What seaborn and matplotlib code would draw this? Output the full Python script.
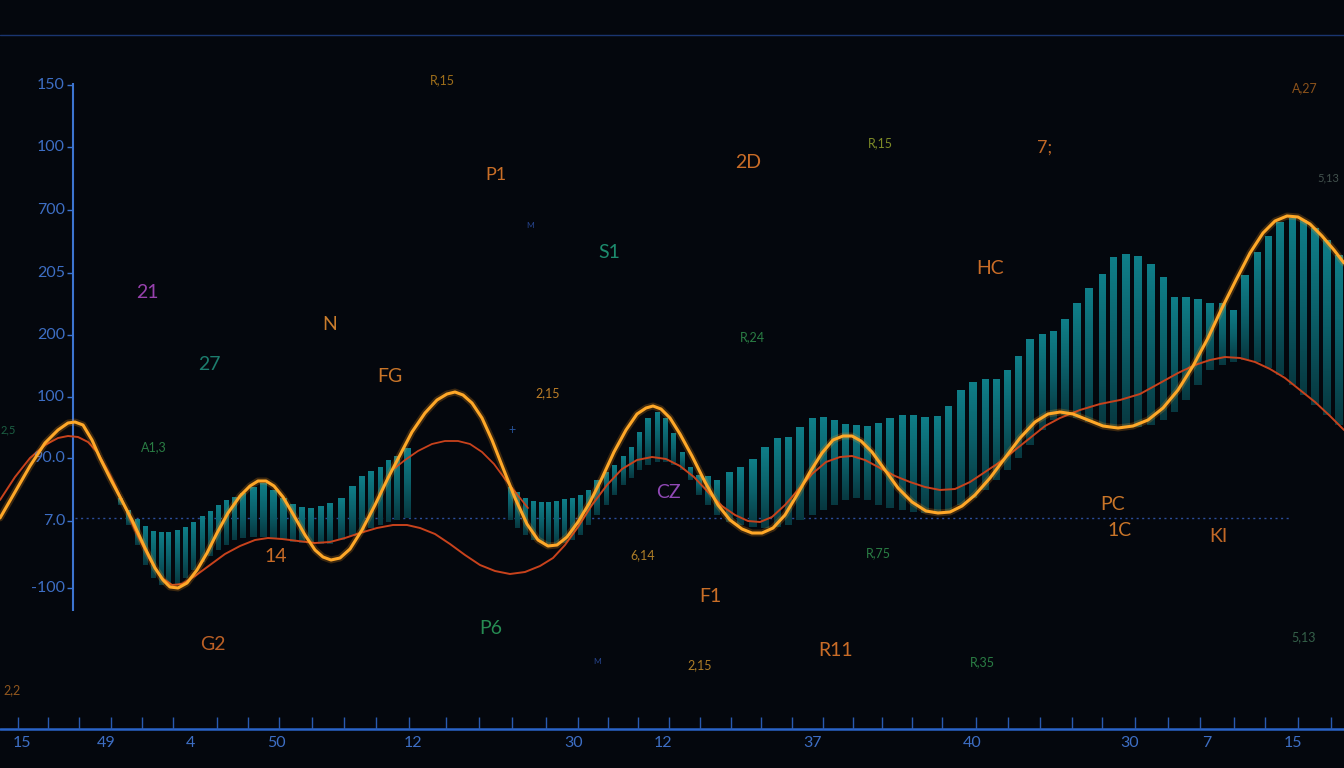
import numpy as np
import matplotlib
matplotlib.use("Agg")
import matplotlib.pyplot as plt
import seaborn as sns
from matplotlib.colors import LinearSegmentedColormap

# screen-style chart, positions given in picture units (y grows downward)
orange_x = [0, 15, 30, 45, 58, 68, 75, 83, 92, 100, 110, 120, 133, 145, 155, 163, 170, 178, 187, 197,
            207, 217, 228, 240, 250, 258, 266, 274, 283, 293, 305, 315, 323, 331, 340, 350, 362, 375, 388, 400,
            412, 425, 437, 447, 455, 463, 472, 482, 492, 503, 515, 527, 538, 548, 557, 567, 578, 590, 602, 614,
            626, 637, 646, 653, 661, 670, 680, 692, 705, 718, 730, 742, 752, 762, 773, 785, 797, 810, 822, 833,
            843, 852, 861, 872, 885, 898, 912, 926, 938, 950, 962, 975, 990, 1005, 1020, 1035, 1048, 1060, 1073, 1088,
            1103, 1118, 1133, 1148, 1163, 1178, 1193, 1208, 1222, 1236, 1250, 1263, 1275, 1287, 1298, 1310, 1322, 1334, 1344]
orange_y = [518, 492, 466, 443, 430, 423, 422, 425, 440, 458, 478, 497, 522, 548, 568, 580, 587, 588, 583, 570,
            553, 533, 513, 496, 486, 481, 481, 486, 497, 514, 535, 550, 557, 560, 558, 549, 530, 505, 478, 455,
            432, 413, 400, 394, 392, 395, 403, 418, 440, 468, 498, 524, 540, 546, 545, 537, 522, 502, 478, 452,
            430, 414, 408, 406, 409, 418, 434, 456, 482, 505, 520, 529, 533, 533, 528, 515, 495, 472, 453, 440,
            436, 436, 441, 452, 470, 488, 502, 511, 513, 512, 506, 495, 478, 458, 438, 422, 414, 412, 414, 420,
            426, 428, 426, 420, 408, 390, 366, 338, 308, 280, 253, 233, 221, 216, 217, 224, 236, 250, 263]

red_x = [0, 15, 30, 45, 58, 68, 78, 88, 98, 110, 122, 135, 150, 162, 172, 182, 195, 210, 225, 240,
         255, 268, 282, 298, 315, 330, 345, 360, 377, 393, 407, 420, 435, 450, 465, 480, 495, 510, 525, 540,
         553, 565, 578, 592, 607, 622, 637, 652, 666, 680, 694, 708, 722, 735, 748, 760, 772, 785, 798, 812,
         826, 840, 852, 865, 880, 895, 910, 925, 940, 955, 970, 985, 1000, 1015, 1030, 1045, 1060, 1080, 1100, 1120,
         1140, 1160, 1178, 1195, 1210, 1225, 1240, 1255, 1270, 1285, 1300, 1315, 1330, 1344]
red_y = [500, 477, 458, 445, 438, 436, 437, 442, 453, 475, 500, 530, 560, 578, 585, 584, 576, 565, 554, 546,
         540, 538, 539, 541, 543, 542, 538, 533, 528, 525, 525, 528, 534, 544, 555, 565, 571, 574, 572, 566,
         558, 545, 527, 505, 485, 469, 460, 457, 459, 466, 477, 492, 506, 515, 521, 522, 517, 505, 490, 474,
         462, 457, 456, 460, 468, 476, 482, 487, 490, 489, 482, 472, 462, 450, 438, 426, 418, 410, 404, 400,
         394, 383, 373, 365, 360, 357, 358, 362, 369, 378, 390, 402, 416, 430]

red2_x = [395, 405, 418, 432, 445, 458, 470, 482, 494, 505, 516, 528]
red2_y = [468, 460, 451, 444, 441, 441, 444, 452, 464, 479, 493, 508]

bar_x = [120, 128, 137, 145, 153, 161, 168, 177, 185, 193, 202, 210, 218, 226, 234, 243, 253, 263, 273, 283,
         293, 302, 311, 321, 330, 341, 352, 362, 371, 380, 388, 397, 407,
         510, 517, 525, 533, 541, 548, 556, 564, 572, 580, 588, 597, 606, 614, 623, 631, 639, 648, 657, 665,
         673, 682, 690, 699, 708, 717, 729, 740, 753, 765, 777, 788, 800, 812, 823, 834, 845, 856, 867, 878,
         890, 902, 913, 925, 937, 948,
         961, 973, 985, 996, 1007, 1018, 1030, 1042, 1053, 1065, 1077, 1089, 1102, 1113, 1126, 1138, 1151,
         1163, 1174, 1186, 1198, 1210, 1222, 1233, 1245, 1257, 1268, 1280, 1292, 1303, 1315, 1327, 1339]
bar_top = [498, 510, 519, 526, 531, 532, 532, 530, 527, 522, 516, 511, 505, 500, 497, 493, 487, 483, 490, 498,
           504, 507, 508, 506, 503, 498, 486, 476, 471, 467, 460, 456, 448,
           487, 492, 498, 501, 502, 502, 501, 499, 498, 495, 490, 480, 472, 465, 456, 447, 432, 418, 412, 418,
           433, 452, 467, 475, 476, 480, 472, 467, 459, 447, 438, 437, 427, 418, 417, 420, 424, 425, 426, 423,
           418, 415, 415, 417, 416, 406,
           390, 382, 379, 379, 370, 356, 339, 334, 331, 319, 303, 288, 274, 257, 254, 256, 264,
           277, 297, 297, 299, 303, 303, 310, 275, 252, 236, 222, 218, 220, 228, 240, 255]
bar_bottom = [505, 525, 545, 565, 578, 585, 586, 584, 578, 570, 562, 556, 550, 545, 540, 538, 537, 537, 538, 540,
              542, 543, 543, 544, 544, 540, 536, 532, 528, 525, 522, 520, 518,
              520, 528, 535, 540, 543, 545, 545, 543, 540, 535, 525, 515, 505, 495, 485, 478, 470, 465, 462, 462,
              465, 470, 480, 495, 505, 515, 522, 525, 527, 528, 527, 525, 520, 515, 510, 505, 500, 498, 500, 505,
              508, 510, 512, 513, 513, 512,
              505, 498, 490, 480, 470, 458, 445, 430, 420, 415, 418, 422, 425, 428, 428, 427, 425,
              420, 412, 400, 385, 370, 365, 362, 360, 362, 368, 375, 385, 395, 405, 415, 425]

ytick_pos = [85, 147, 210, 273, 335, 397, 458, 521, 588]
ytick_labels = ["150", "100", "700", "205", "200", "100", "90.0", "7.0", "-100"]

xtick_pos = [18, 48, 79, 111, 142, 173, 217, 248, 279, 312, 344, 376, 409, 446, 479, 512, 546, 578, 608, 638,
             669, 700, 731, 761, 792, 823, 853, 882, 912, 942, 976, 1008, 1040, 1072, 1102, 1135, 1168, 1200,
             1234, 1265, 1298, 1331]
xlabel_pos = [22, 106, 190, 276, 413, 574, 663, 813, 972, 1130, 1207, 1293]
xlabel_text = ["15", "49", "4", "50", "12", "30", "12", "37", "40", "30", "7", "15"]

note_text = ["R,15", "P1", "2D", "R,15", "7;", "A,27", "5,13", "21", "N", "S1", "M", "HC", "27", "FG", "R,24",
             "2,15", "A1,3", "2,5", "+", "CZ", "14", "6,14", "R,75", "PC", "1C", "KI", "F1", "G2", "P6", "M",
             "2,15", "R11", "R,35", "5,13", "2,2"]
note_x = [442, 496, 748, 880, 1045, 1305, 1328, 147, 330, 609, 530, 990, 209, 390, 752, 548, 154, 8, 512, 668,
          276, 643, 878, 1113, 1120, 1218, 710, 213, 491, 597, 700, 836, 982, 1304, 12]
note_y = [80, 175, 162, 143, 148, 88, 178, 293, 325, 253, 225, 268, 365, 377, 337, 393, 447, 430, 430, 492,
          557, 555, 553, 505, 530, 537, 597, 645, 629, 662, 665, 651, 662, 637, 690]
note_color = ["#b07a1c", "#e07a2a", "#e0782a", "#8c9a2a", "#d8742a", "#9a5a1c", "#4a5a55", "#a848c0",
              "#e08a30", "#1f9a78", "#2a4a9a", "#e0782a", "#1f8a78", "#e0822c", "#2e8a4a", "#d08a2a",
              "#2e8a4a", "#1f6a4a", "#2a5aa8", "#a050c8", "#e0782a", "#c08a2a", "#2e8a4a", "#e0822c",
              "#e0822c", "#d8742a", "#e07a2a", "#d06a28", "#2a9a5a", "#2a4a9a", "#c08a2a", "#e0782a",
              "#2e8a4a", "#3a6a50", "#a06020"]
note_size = [9, 13, 14, 9, 13, 9, 8, 14, 14, 14, 6, 14, 14, 14, 9, 9, 9, 8, 9, 14,
             14, 9, 9, 14, 14, 14, 14, 14, 14, 6, 9, 14, 9, 9, 9]

sns.set_theme(style="dark")
plt.rcParams["font.family"] = ["Lato", "DejaVu Sans"]

bg = "#04070d"
fig = plt.figure(figsize=(13.44, 7.68), dpi=100, facecolor=bg)
ax = fig.add_axes([0, 0, 1, 1])
ax.set_facecolor(bg)
ax.set_xlim(0, 1344)
ax.set_ylim(768, 0)
ax.axis("off")

# frame lines
ax.axhline(35, color="#1a3570", lw=1.0)
ax.axhline(729, color="#2a64c8", lw=1.8)
ax.vlines(73, 83, 611, color="#3c74d0", lw=1.5)
ax.hlines(518, 75, 1290, color="#2b4d9a", lw=1.0, linestyles=(0, (1.5, 2.5)))

# bars, each filled with a top-to-bottom teal fade
bx = np.array(bar_x, dtype=float)
d = np.diff(bx)
bw = 0.62 * np.minimum(np.r_[d[0], d], np.r_[d, d[-1]])
bars = ax.bar(bx, np.array(bar_bottom) - np.array(bar_top), bottom=bar_top, width=bw,
              color="none", linewidth=0, zorder=2)
fade = LinearSegmentedColormap.from_list("fade", ["#0f7e88", "#0b5f69", "#073840"])
grad = np.linspace(0, 1, 64).reshape(-1, 1)
for p in bars.patches:
    x0, y0 = p.get_x(), p.get_y()
    im = ax.imshow(grad, cmap=fade, aspect="auto", origin="upper",
                   extent=(x0, x0 + p.get_width(), y0 + p.get_height(), y0), zorder=2)
    im.set_clip_path(p)
ax.set_xlim(0, 1344)
ax.set_ylim(768, 0)

# lines
sns.lineplot(x=red_x, y=red_y, ax=ax, color="#c8421c", linewidth=1.4, sort=False, zorder=3)
sns.lineplot(x=red2_x, y=red2_y, ax=ax, color="#c8421c", linewidth=1.3, sort=False, zorder=3)
sns.lineplot(x=orange_x, y=orange_y, ax=ax, color="#ff9a1a", linewidth=5, alpha=0.22, sort=False, zorder=4)
sns.lineplot(x=orange_x, y=orange_y, ax=ax, color="#ffa828", linewidth=2.2, sort=False, zorder=5)
for ln in ax.lines:
    ln.set_solid_capstyle("round")
    ln.set_solid_joinstyle("round")

# y axis ticks and labels
ax.hlines(ytick_pos, 67, 73, color="#3c74d0", lw=1.0)
for yp, lab in zip(ytick_pos, ytick_labels):
    ax.text(65, yp, lab, color="#3d6ec4", fontsize=11.5, ha="right", va="center")

# bottom ticks and labels
ax.vlines(xtick_pos, 717, 729, color="#2a5ab0", lw=1.0)
for xp, lab in zip(xlabel_pos, xlabel_text):
    ax.text(xp, 743, lab, color="#3d6ec4", fontsize=11.5, ha="center", va="center")

# scattered annotations
for t, x, y, c, s in zip(note_text, note_x, note_y, note_color, note_size):
    ax.text(x, y, t, color=c, fontsize=s, ha="center", va="center", alpha=0.9)

fig.savefig("out.png", dpi=100, facecolor=bg)
